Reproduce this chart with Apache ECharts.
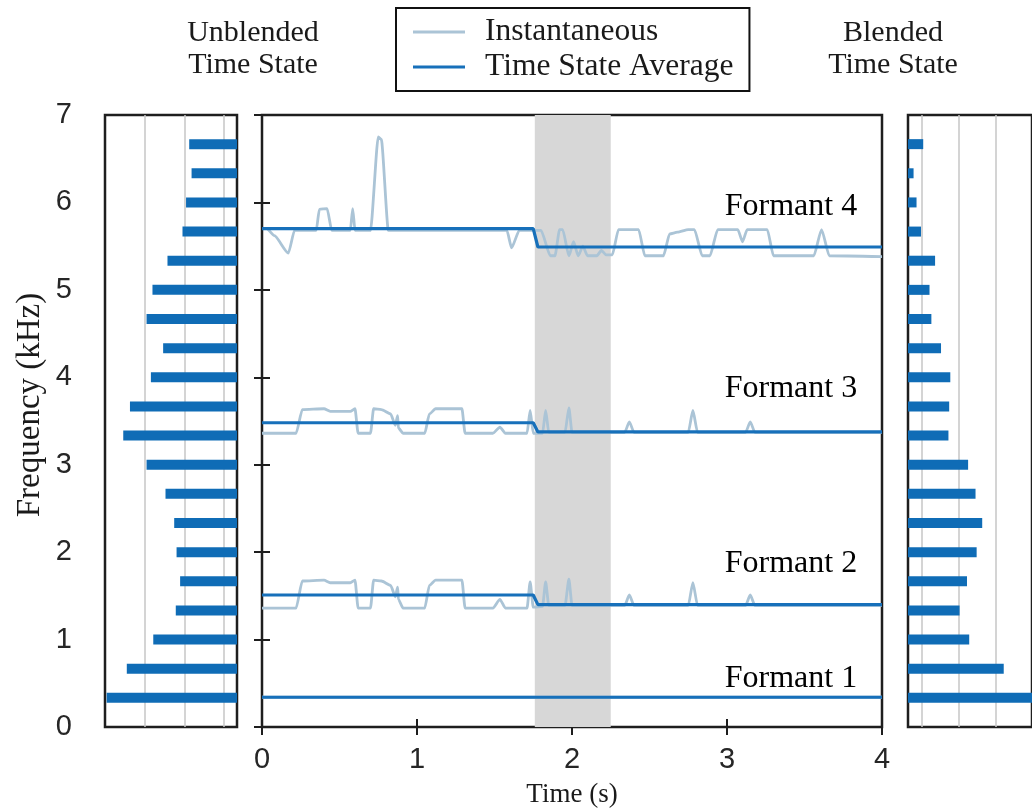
<!DOCTYPE html>
<html>
<head>
<meta charset="utf-8">
<script src="https://cdn.jsdelivr.net/npm/echarts@6/dist/echarts.min.js"></script>
<style>
  html, body { margin: 0; padding: 0; background: #fff; }
  #chart { width: 1032px; height: 811px; }
</style>
</head>
<body>
<div id="chart"></div>
<script>
// frequency bins (kHz), bar centres of the two side histograms
const freqBins = [0.33, 0.67, 1.0, 1.33, 1.67, 2.0, 2.33, 2.67, 3.0, 3.33,
                  3.67, 4.0, 4.33, 4.67, 5.0, 5.33, 5.67, 6.0, 6.33, 6.67];
// bar lengths, in grid-line units
const unblended = [3.30, 2.79, 2.12, 1.55, 1.44, 1.53, 1.59, 1.81, 2.29, 2.88,
                   2.71, 2.18, 1.87, 2.29, 2.14, 1.76, 1.38, 1.29, 1.15, 1.21];
const blended = [3.60, 2.58, 1.65, 1.39, 1.59, 1.85, 2.00, 1.82, 1.62, 1.09,
                 1.11, 1.14, 0.89, 0.63, 0.58, 0.73, 0.35, 0.23, 0.15, 0.41];
const unblendedGrid = [0.33, 1.33, 2.33];
const blendedGrid = [0.37, 1.37, 2.37];

// [time (s), frequency (kHz)]
const f4Inst = [[0, 5.70], [0.03, 5.70], [0.08, 5.62], [0.17, 5.42], [0.21, 5.68], [0.35, 5.68],
  [0.37, 5.92], [0.42, 5.93], [0.45, 5.68], [0.57, 5.68], [0.585, 5.93], [0.60, 5.68],
  [0.70, 5.68], [0.75, 6.75], [0.77, 6.72], [0.815, 5.68], [1.58, 5.68], [1.61, 5.48],
  [1.66, 5.68], [1.80, 5.68], [1.86, 5.39], [1.89, 5.39], [1.92, 5.69], [1.94, 5.69],
  [1.98, 5.39], [2.01, 5.55], [2.04, 5.39], [2.07, 5.50], [2.10, 5.39], [2.16, 5.39],
  [2.19, 5.45], [2.22, 5.40], [2.26, 5.40], [2.30, 5.69], [2.43, 5.69], [2.47, 5.39],
  [2.59, 5.39], [2.63, 5.64], [2.68, 5.66], [2.75, 5.69], [2.79, 5.69], [2.84, 5.39],
  [2.89, 5.39], [2.94, 5.69], [3.07, 5.69], [3.10, 5.55], [3.13, 5.69], [3.26, 5.69],
  [3.30, 5.39], [3.56, 5.39], [3.61, 5.69], [3.66, 5.39], [4.0, 5.38]];
const f4Avg = [[0, 5.70], [1.75, 5.70], [1.78, 5.49], [4.0, 5.49]];

const f3Inst = [[0, 3.36], [0.22, 3.36], [0.26, 3.63], [0.40, 3.64], [0.44, 3.61], [0.57, 3.61],
  [0.60, 3.64], [0.62, 3.36], [0.70, 3.36], [0.72, 3.64], [0.77, 3.63], [0.83, 3.58],
  [0.86, 3.45], [0.875, 3.56], [0.88, 3.42], [0.91, 3.36], [1.05, 3.36], [1.08, 3.58],
  [1.12, 3.64], [1.29, 3.64], [1.31, 3.36], [1.49, 3.36], [1.535, 3.43], [1.57, 3.36],
  [1.71, 3.36], [1.73, 3.62], [1.75, 3.36], [1.81, 3.36], [1.83, 3.62], [1.85, 3.37],
  [1.955, 3.37], [1.98, 3.65], [2.0, 3.37], [2.34, 3.37], [2.37, 3.49], [2.40, 3.37],
  [2.75, 3.37], [2.78, 3.62], [2.81, 3.37], [3.12, 3.37], [3.15, 3.49], [3.18, 3.37],
  [4.0, 3.37]];
const f3Avg = [[0, 3.48], [1.75, 3.48], [1.78, 3.375], [4.0, 3.375]];

const f2Inst = [[0, 1.36], [0.22, 1.36], [0.26, 1.67], [0.40, 1.68], [0.44, 1.65], [0.57, 1.65],
  [0.60, 1.68], [0.62, 1.36], [0.70, 1.36], [0.72, 1.68], [0.77, 1.67], [0.83, 1.62],
  [0.86, 1.49], [0.875, 1.60], [0.88, 1.46], [0.91, 1.36], [1.05, 1.36], [1.08, 1.62],
  [1.12, 1.68], [1.29, 1.68], [1.31, 1.36], [1.49, 1.36], [1.535, 1.46], [1.57, 1.36],
  [1.71, 1.36], [1.73, 1.66], [1.75, 1.37], [1.81, 1.38], [1.83, 1.66], [1.85, 1.39],
  [1.955, 1.39], [1.98, 1.69], [2.0, 1.39], [2.34, 1.39], [2.37, 1.51], [2.40, 1.39],
  [2.75, 1.39], [2.78, 1.65], [2.81, 1.39], [3.12, 1.39], [3.15, 1.51], [3.18, 1.39],
  [4.0, 1.39]];
const f2Avg = [[0, 1.51], [1.75, 1.51], [1.78, 1.40], [4.0, 1.40]];

const f1Inst = [[0, 0.34], [4.0, 0.34]];
const f1Avg = [[0, 0.34], [4.0, 0.34]];

const blendWindow = [1.76, 2.25];
const formantNames = ['Formant 4', 'Formant 3', 'Formant 2', 'Formant 1'];
const formantLabelAt = [[3.84, 5.95], [3.84, 3.87], [3.84, 1.87], [3.84, 0.55]];

const INST = '#abc4d6';
const AVG = '#1770ba';
const BAR = '#0f6cb6';
const FRAME = '#1e1e1e';
const SERIF = '"Liberation Serif", "Times New Roman", serif';
const SANS = '"Liberation Sans", Arial, sans-serif';

const chart = echarts.init(document.getElementById('chart'), null, { renderer: 'canvas' });

const binCats = ['0', ...freqBins.map(String), '7'];
const padBars = (vals) => [null, ...vals, null];

const hiddenAxis = { show: false };
const frameGrid = { show: true, borderColor: FRAME, borderWidth: 2.5, backgroundColor: 'transparent' };

function gridLines(values) {
    return {
        silent: true,
        symbol: ['none', 'none'],
        z: 1,
        label: { show: false },
        lineStyle: { color: '#c6c6c6', width: 1.5, type: 'solid' },
        data: values.map((v) => ({ xAxis: v })),
    };
}

function trace(name, data, color, width, z, smooth) {
    return {
        name,
        type: 'line',
        xAxisIndex: 1,
        yAxisIndex: 2,
        data,
        symbol: 'none',
        smooth,
        smoothMonotone: 'x',
        color,
        lineStyle: { color, width },
        z,
        animation: false,
    };
}

function innerTicks(extra) {
    return Object.assign({
        axisLine: { show: false },
        axisTick: { show: true, inside: true, length: 8, lineStyle: { color: FRAME, width: 2 } },
        axisLabel: { show: false },
        splitLine: { show: false },
    }, extra);
}

const instSeries = [f4Inst, f3Inst, f2Inst, f1Inst].map((d) => trace('Instantaneous', d, INST, 2.8, 3, 0.2));
instSeries[0].markArea = {
    silent: true,
    z: 1,
    itemStyle: { color: '#d7d7d7' },
    data: [[{ xAxis: blendWindow[0] }, { xAxis: blendWindow[1] }]],
};
const avgSeries = [f4Avg, f3Avg, f2Avg, f1Avg].map((d) => trace('Time State Average', d, AVG, 3.2, 4, false));

const option = {
    animation: false,
    backgroundColor: '#fff',
    grid: [
        Object.assign({ left: 105, top: 115, width: 132, height: 612 }, frameGrid),
        Object.assign({ left: 262, top: 115, width: 620, height: 612 }, frameGrid),
        Object.assign({ left: 908, top: 115, width: 132, height: 612 }, frameGrid),
    ],
    xAxis: [
        { type: 'value', gridIndex: 0, min: 0, max: 3.342, inverse: true, ...hiddenAxis },
        innerTicks({
            type: 'value', gridIndex: 1, position: 'bottom', min: 0, max: 4, interval: 1,
            axisLabel: { show: true, margin: 18, color: '#262626', fontFamily: SANS, fontSize: 29 },
        }),
        innerTicks({ type: 'value', gridIndex: 1, position: 'top', min: 0, max: 4, interval: 1 }),
        { type: 'value', gridIndex: 2, min: 0, max: 3.342, ...hiddenAxis },
    ],
    yAxis: [
        {
            type: 'value', gridIndex: 0, position: 'left', min: 0, max: 7, interval: 1,
            axisLine: { show: false },
            axisTick: { show: true, inside: false, length: 8, lineStyle: { color: FRAME, width: 2 } },
            axisLabel: { margin: 33, color: '#262626', fontFamily: SANS, fontSize: 29 },
            splitLine: { show: false },
        },
        { type: 'category', gridIndex: 0, data: binCats, boundaryGap: false, ...hiddenAxis },
        innerTicks({ type: 'value', gridIndex: 1, position: 'left', min: 0, max: 7, interval: 1 }),
        innerTicks({ type: 'value', gridIndex: 1, position: 'right', min: 0, max: 7, interval: 1 }),
        { type: 'category', gridIndex: 2, data: binCats, boundaryGap: false, ...hiddenAxis },
    ],
    legend: {
        left: 396,
        top: 8,
        orient: 'vertical',
        icon: 'rect',
        itemWidth: 52,
        itemHeight: 3,
        itemGap: 3,
        padding: [8, 16, 8, 17],
        borderColor: '#111',
        borderWidth: 2,
        backgroundColor: '#fff',
        textStyle: { fontFamily: SERIF, fontSize: 31.5, color: '#1a1a1a', padding: [0, 0, 0, 15] },
        data: ['Instantaneous', 'Time State Average'],
        selectedMode: false,
    },
    graphic: [
        {
            type: 'text', x: 253, y: 49,
            style: { text: 'Unblended\nTime State', font: '30px ' + SERIF, fill: '#1a1a1a',
                     align: 'center', verticalAlign: 'middle', lineHeight: 32 },
        },
        {
            type: 'text', x: 893, y: 49,
            style: { text: 'Blended\nTime State', font: '30px ' + SERIF, fill: '#1a1a1a',
                     align: 'center', verticalAlign: 'middle', lineHeight: 32 },
        },
        {
            type: 'text', x: 572, y: 795,
            style: { text: 'Time (s)', font: '27px ' + SERIF, fill: '#1a1a1a',
                     align: 'center', verticalAlign: 'middle' },
        },
        {
            type: 'text', x: 30, y: 405, rotation: Math.PI / 2,
            style: { text: 'Frequency (kHz)', font: '33px ' + SERIF, fill: '#1a1a1a',
                     align: 'center', verticalAlign: 'middle' },
        },
    ],
    series: [
        {
            name: 'Unblended', type: 'bar', xAxisIndex: 0, yAxisIndex: 1,
            data: padBars(unblended), barWidth: 10, color: BAR, z: 2,
            markLine: gridLines(unblendedGrid),
        },
        {
            name: 'Blended', type: 'bar', xAxisIndex: 3, yAxisIndex: 4,
            data: padBars(blended), barWidth: 10, color: BAR, z: 2,
            markLine: gridLines(blendedGrid),
        },
        ...instSeries,
        ...avgSeries,
        {
            name: 'labels', type: 'scatter', xAxisIndex: 1, yAxisIndex: 2,
            symbolSize: 0, silent: true, z: 6,
            itemStyle: { opacity: 1 },
            data: formantLabelAt.map((p, i) => ({ value: p, name: formantNames[i] })),
            label: {
                show: true, position: 'left', distance: 0, formatter: '{b}',
                fontFamily: SERIF, fontSize: 32, color: '#000',
            },
        },
    ],
};

chart.setOption(option);
</script>
</body>
</html>
